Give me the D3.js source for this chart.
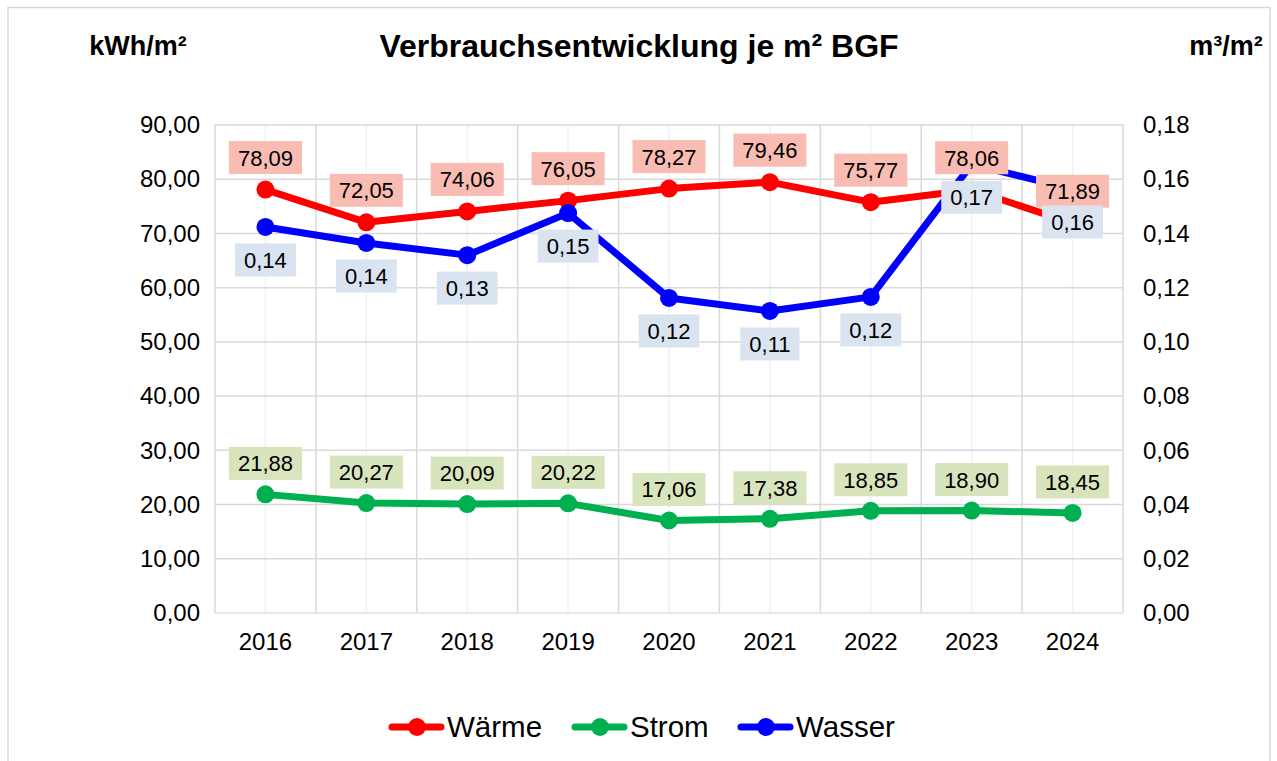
<!DOCTYPE html>
<html>
<head>
<meta charset="utf-8">
<script src="https://cdn.jsdelivr.net/npm/d3@7"></script>
<style>
  body { margin: 0; background: #fff; }
  svg { font-family: "Liberation Sans", Arial, sans-serif; }
</style>
</head>
<body>
<div id="chart"></div>
<script>
let years = ["2016", "2017", "2018", "2019", "2020", "2021", "2022", "2023", "2024"];
let waerme = [78.09, 72.05, 74.06, 76.05, 78.27, 79.46, 75.77, 78.06, 71.89];
let strom = [21.88, 20.27, 20.09, 20.22, 17.06, 17.38, 18.85, 18.90, 18.45];
let wasser = [0.1424, 0.1365, 0.132, 0.1475, 0.1162, 0.1114, 0.1166, 0.1655, 0.1564];
let leftTicks = [0, 10, 20, 30, 40, 50, 60, 70, 80, 90];
let rightTicks = [0, 0.02, 0.04, 0.06, 0.08, 0.10, 0.12, 0.14, 0.16, 0.18];

let W = 1277, H = 761;
let plot = {left: 215, right: 1123, top: 125, bottom: 613};

let de = d3.formatLocale({decimal: ",", thousands: ".", grouping: [3], currency: ["", " €"]});
let f2 = de.format(".2f");

let svg = d3.select("#chart").append("svg")
    .attr("width", W)
    .attr("height", H);

// outer chart border
svg.append("rect")
    .attr("x", 8).attr("y", 7.5)
    .attr("width", 1262).attr("height", 770)
    .attr("fill", "#fff")
    .attr("stroke", "#d9d9d9")
    .attr("stroke-width", 1.5);

let x = d3.scaleBand()
    .domain(years)
    .range([plot.left, plot.right]);
let cx = d => x(d) + x.bandwidth() / 2;

let yL = d3.scaleLinear().domain([0, 90]).range([plot.bottom, plot.top]);
let yR = d3.scaleLinear().domain([0, 0.18]).range([plot.bottom, plot.top]);

// faint gridlines at the category centres
svg.append("g").selectAll("line")
    .data(years)
    .join("line")
    .attr("x1", d => cx(d)).attr("x2", d => cx(d))
    .attr("y1", plot.top).attr("y2", plot.bottom)
    .attr("stroke", "#edf2fa")
    .attr("stroke-width", 1.5);

// major vertical gridlines at category boundaries
let bounds = years.map(d => x(d)).concat([plot.right]);
svg.append("g").selectAll("line")
    .data(bounds)
    .join("line")
    .attr("x1", d => d).attr("x2", d => d)
    .attr("y1", plot.top).attr("y2", plot.bottom)
    .attr("stroke", "#d9d9d9")
    .attr("stroke-width", 1.5);

// horizontal gridlines
svg.append("g").selectAll("line")
    .data(leftTicks.slice(1))
    .join("line")
    .attr("x1", plot.left).attr("x2", plot.right)
    .attr("y1", d => yL(d)).attr("y2", d => yL(d))
    .attr("stroke", "#d9d9d9")
    .attr("stroke-width", 1.5);

// category axis line
svg.append("line")
    .attr("x1", plot.left).attr("x2", plot.right)
    .attr("y1", plot.bottom).attr("y2", plot.bottom)
    .attr("stroke", "#d5e0ef")
    .attr("stroke-width", 1.5);

// left axis
let leftAxis = d3.axisLeft(yL).tickValues(leftTicks).tickFormat(f2).tickSize(0).tickPadding(15);
let gL = svg.append("g").attr("transform", `translate(${plot.left},0)`).call(leftAxis);
gL.select(".domain").remove();
gL.selectAll("text").attr("font-size", 24).attr("fill", "#000").attr("font-family", "Liberation Sans, Arial, sans-serif");

// right axis
let rightAxis = d3.axisRight(yR).tickValues(rightTicks).tickFormat(f2).tickSize(0).tickPadding(20);
let gR = svg.append("g").attr("transform", `translate(${plot.right},0)`).call(rightAxis);
gR.select(".domain").remove();
gR.selectAll("text").attr("font-size", 24).attr("fill", "#000").attr("font-family", "Liberation Sans, Arial, sans-serif");

// bottom axis
let bottomAxis = d3.axisBottom(x).tickSize(0).tickPadding(20);
let gB = svg.append("g").attr("transform", `translate(0,${plot.bottom})`).call(bottomAxis);
gB.select(".domain").remove();
gB.selectAll("text").attr("font-size", 24).attr("fill", "#000").attr("font-family", "Liberation Sans, Arial, sans-serif");

// titles
svg.append("text")
    .attr("x", 639).attr("y", 57)
    .attr("text-anchor", "middle")
    .attr("font-size", 32).attr("font-weight", "bold")
    .text("Verbrauchsentwicklung je m² BGF");
svg.append("text")
    .attr("x", 138).attr("y", 55)
    .attr("text-anchor", "middle")
    .attr("font-size", 27).attr("font-weight", "bold")
    .text("kWh/m²");
svg.append("text")
    .attr("x", 1226).attr("y", 55)
    .attr("text-anchor", "middle")
    .attr("font-size", 27).attr("font-weight", "bold")
    .text("m³/m²");

let series = [
    {name: "Wärme", values: waerme, y: yL, color: "#ff0000", label: "#f8bcb3", dy: -32},
    {name: "Strom", values: strom, y: yL, color: "#00b050", label: "#d8e4bc", dy: -31},
    {name: "Wasser", values: wasser, y: yR, color: "#0000ff", label: "#dae3f0", dy: 33}
];

let line = d3.line()
    .x(d => d.x)
    .y(d => d.y);

series.forEach(s => {
    let pts = s.values.map((v, i) => ({x: cx(years[i]), y: s.y(v), v: v}));
    svg.append("path")
        .datum(pts)
        .attr("d", line)
        .attr("fill", "none")
        .attr("stroke", s.color)
        .attr("stroke-width", 7)
        .attr("stroke-linejoin", "round");
    svg.append("g").selectAll("circle")
        .data(pts)
        .join("circle")
        .attr("cx", d => d.x)
        .attr("cy", d => d.y)
        .attr("r", 9)
        .attr("fill", s.color);
    s.pts = pts;
});

// data labels on top of all lines
series.forEach(s => {
    let g = svg.append("g");
    s.pts.forEach(p => {
        let t = g.append("text")
            .attr("x", p.x)
            .attr("y", p.y + s.dy + 8)
            .attr("text-anchor", "middle")
            .attr("font-size", 22)
            .text(f2(p.v));
        let w = t.node().getComputedTextLength() + 18;
        g.insert("rect", "text")
            .attr("x", p.x - w / 2)
            .attr("y", p.y + s.dy - 16.5)
            .attr("width", w)
            .attr("height", 33)
            .attr("fill", s.label);
    });
});

// legend
let legendX = [389, 572, 738];
let lg = svg.append("g").selectAll("g")
    .data(series)
    .join("g")
    .attr("transform", (d, i) => `translate(${legendX[i]},727)`);
lg.append("line")
    .attr("x1", 3).attr("x2", 52)
    .attr("stroke", d => d.color)
    .attr("stroke-width", 7)
    .attr("stroke-linecap", "round");
lg.append("circle")
    .attr("cx", 28).attr("r", 9)
    .attr("fill", d => d.color);
lg.append("text")
    .attr("x", 58).attr("y", 10)
    .attr("font-size", 29.5)
    .text(d => d.name);
</script>
</body>
</html>
